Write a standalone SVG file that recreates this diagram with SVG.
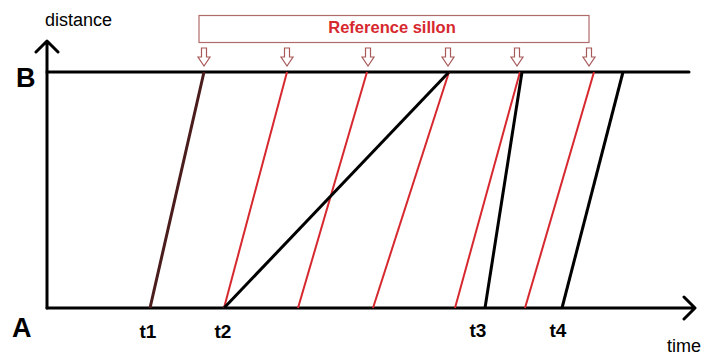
<svg xmlns="http://www.w3.org/2000/svg" width="703" height="356" viewBox="0 0 703 356">
<style>
.ax{stroke:#000;stroke-width:3;fill:none;stroke-linecap:round;stroke-linejoin:round}
.red{stroke:#d6282e;stroke-width:2;fill:none}
.blk{stroke:#000;stroke-width:3;fill:none}
.brn{stroke:#4a1c1c;stroke-width:3;fill:none}
.lbl{font-family:"Liberation Sans",Arial,sans-serif;fill:#000}
.big{font-weight:bold;font-size:27px}
.t{font-weight:bold;font-size:19px;text-anchor:middle}
.dn{fill:#fff;stroke:#a85858;stroke-width:1.2}
</style>
<defs>
<path id="dn" class="dn" d="M-2.5,-19 h5 v9 h3.5 l-6,9 l-6,-9 h3.5 z"/>
</defs>
<rect width="703" height="356" fill="#fff"/>
<g id="axes">
<path class="ax" d="M47,308 V41 M36,52 L47,41 L58,52"/>
<path class="ax" d="M47,308 H694 M684,297 L695,308 L684,319"/>
<path class="ax" d="M47,72 H689"/>
</g>
<g id="labels">
<text class="lbl" x="45" y="26" font-size="18">distance</text>
<text class="lbl" x="667" y="352" font-size="18">time</text>
<text class="lbl big" x="16" y="87">B</text>
<text class="lbl big" x="12" y="337">A</text>
<text class="lbl t" x="148" y="338">t1</text>
<text class="lbl t" x="223" y="338">t2</text>
<text class="lbl t" x="478" y="337">t3</text>
<text class="lbl t" x="558" y="337">t4</text>
</g>
<g id="reference-sillon">
<rect x="199" y="15.5" width="390" height="27" fill="#fff" stroke="#b06a6a" stroke-width="1.2"/>
<text x="392" y="33" font-family="'Liberation Sans',Arial,sans-serif" font-size="16.5" font-weight="bold" fill="#d6282e" text-anchor="middle">Reference sillon</text>
<use href="#dn" x="204" y="67"/>
<use href="#dn" x="287" y="67"/>
<use href="#dn" x="368" y="67"/>
<use href="#dn" x="448" y="67"/>
<use href="#dn" x="517" y="67"/>
<use href="#dn" x="589" y="67"/>
</g>
<g id="connectors">
<line class="brn" x1="150" y1="308" x2="204" y2="72"/>
<line class="red" x1="224" y1="308" x2="287" y2="72"/>
<line class="red" x1="298" y1="308" x2="367" y2="72"/>
<line class="red" x1="373" y1="308" x2="449" y2="72"/>
<line class="red" x1="455" y1="308" x2="520" y2="72"/>
<line class="red" x1="525" y1="308" x2="594" y2="72"/>
<line class="blk" x1="224" y1="308" x2="449" y2="72"/>
<line class="blk" x1="485" y1="308" x2="522" y2="72"/>
<line class="blk" x1="562" y1="308" x2="623" y2="72"/>
</g>
</svg>
